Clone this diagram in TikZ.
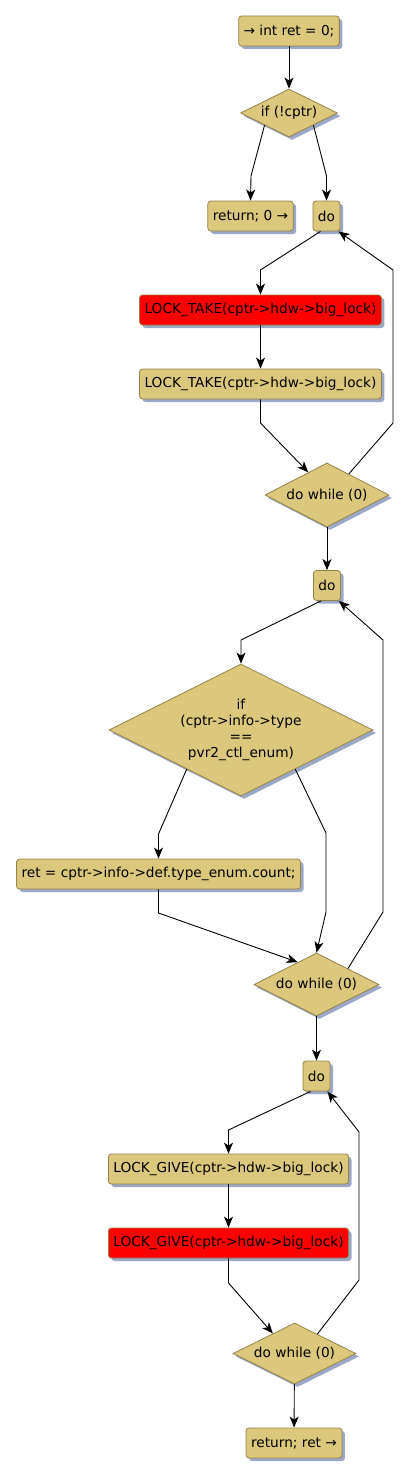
\documentclass[tikz,border=0pt]{standalone}
\usepackage{fontspec}
\setmainfont{DejaVu Sans}
\usepackage{xcolor}
\usepackage{tikz}
\usetikzlibrary{arrows.meta,shapes.geometric,shadows,calc}
\definecolor{boxfill}{RGB}{219,200,125}
\definecolor{boxline}{RGB}{150,130,70}
\definecolor{lockred}{RGB}{255,0,0}
\definecolor{shadowc}{RGB}{155,168,200}

\begin{document}
\begin{tikzpicture}[
  x=1pt, y=-1pt,
  every node/.style={font=\fontsize{13.7}{16}\selectfont},
  box/.style={draw=boxline, line width=0.8pt, rounded corners=3pt, fill=boxfill,
    minimum height=30pt, inner xsep=5pt, inner ysep=2pt,
    drop shadow={shadow xshift=3pt, shadow yshift=-3pt, fill=shadowc, opacity=1}},
  lockbox/.style={box, fill=lockred},
  cond/.style={box, diamond, aspect=2, rounded corners=0pt, inner sep=0pt, align=center},
  >={Stealth[length=11pt, width=9pt, inset=3pt]}, line width=0.9pt
]
\useasboundingbox (0,0) rectangle (409,1477);

\node[box] (start) at (289,31) {→ int ret = 0;};
\node[cond, minimum width=97pt, minimum height=48pt] (ifcptr) at (289,113) {if (!cptr)};
\node[box] (retzero) at (250.5,216) {return; 0 →};
\node[box] (doa) at (326.5,216) {do};
\node[lockbox] (takea) at (260.5,310) {LOCK\_TAKE(cptr->hdw->big\_lock)};
\node[box] (takeb) at (260.5,384) {LOCK\_TAKE(cptr->hdw->big\_lock)};
\node[cond, minimum width=124pt, minimum height=64pt] (whilea) at (327,495) {do while (0)};
\node[box] (dob) at (327,585.5) {do};
\node[cond, minimum width=264pt, minimum height=132pt] (iftype) at (241,730)
  {if\\(cptr->info->type\\==\\pvr2\_ctl\_enum)};
\node[box] (count) at (158.5,874) {ret = cptr->info->def.type\_enum.count;};
\node[cond, minimum width=125pt, minimum height=63pt] (whileb) at (316.5,984.5) {do while (0)};
\node[box] (doc) at (316.5,1076) {do};
\node[box] (givea) at (228.5,1169) {LOCK\_GIVE(cptr->hdw->big\_lock)};
\node[lockbox] (giveb) at (228.5,1243) {LOCK\_GIVE(cptr->hdw->big\_lock)};
\node[cond, minimum width=123pt, minimum height=61pt] (whilec) at (294.5,1353.5) {do while (0)};
\node[box] (retret) at (294,1443) {return; ret →};

\draw[->] (start) -- (ifcptr);
\draw[->] (ifcptr.south west) -- (251,176) -- (retzero.north);
\draw[->] (ifcptr.south east) -- (326.5,176) -- (doa.north);
\draw[->] ([xshift=-6pt]doa.south) -- (260.5,270) -- (takea.north);
\draw[->] (takea) -- (takeb);
\draw[->] (takeb.south) -- (260.5,423) -- ($(whilea.north)!0.3!(whilea.west)$);
\draw[->] ($(whilea.north)!0.35!(whilea.east)$) -- (393,423) -- (393,270)
  -- ([xshift=-2pt]doa.south east);
\draw[->] (whilea) -- (dob);
\draw[->] ([xshift=-6pt]dob.south) -- (241,640) -- (iftype.north);
\draw[->] ($(iftype.south)!0.41!(iftype.west)$) -- (158.5,834) -- (count.north);
\draw[->] ($(iftype.south)!0.41!(iftype.east)$) -- (326,833) -- (326,912) -- (whileb.north);
\draw[->] (count.south) -- (158.5,913) -- ($(whileb.north)!0.3!(whileb.west)$);
\draw[->] ($(whileb.north)!0.5!(whileb.east)$) -- (383,912) -- (383,640)
  -- ([xshift=-2pt]dob.south east);
\draw[->] (whileb) -- (doc);
\draw[->] ([xshift=-6pt]doc.south) -- (228.5,1130) -- (givea.north);
\draw[->] (givea) -- (giveb);
\draw[->] (giveb.south) -- (228.5,1283) -- ($(whilec.north)!0.35!(whilec.west)$);
\draw[->] ($(whilec.north)!0.37!(whilec.east)$) -- (359,1280) -- (359,1132)
  -- ([xshift=-3pt]doc.south east);
\draw[->] (whilec) -- (retret);
\end{tikzpicture}
\end{document}
